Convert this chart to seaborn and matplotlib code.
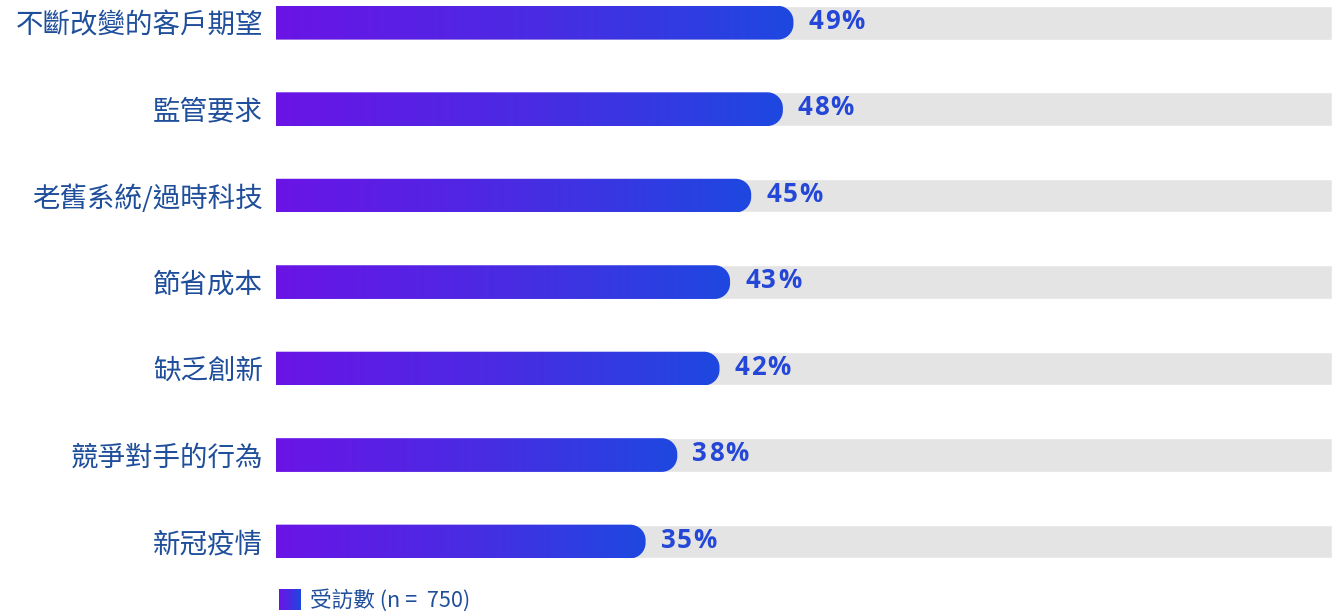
import numpy as np
import pandas as pd
import matplotlib
matplotlib.use("Agg")
import matplotlib.pyplot as plt
from matplotlib.colors import LinearSegmentedColormap
from matplotlib.path import Path
from matplotlib.patches import PathPatch
import seaborn as sns

# ---- data ----
categories = ["不斷改變的客戶期望", "監管要求", "老舊系統/過時科技", "節省成本",
              "缺乏創新", "競爭對手的行為", "新冠疫情"]
values = [49, 48, 45, 43, 42, 38, 35]
track = [100] * len(categories)
legend_label = "受訪數 (n =  750)"

# ---- style ----
sns.set_theme(style="white")
plt.rcParams["font.family"] = ["Noto Sans CJK TC", "DejaVu Sans"]

PURPLE = "#6A14E6"
BLUE = "#1E48E0"
TRACK = "#E4E4E4"
NAVY = "#1F4E9B"
VALUE_C = "#2547D8"
BAR_H = 0.39

grad = LinearSegmentedColormap.from_list("pb", [PURPLE, "#4A2BE3", BLUE])

W, H = 1336, 614
fig = plt.figure(figsize=(W / 100, H / 100), dpi=100)
# axes: data 0 at x=276px, 100 at x=1332px
ax_top_px, ax_bot_px = 0.0, 576.1
ax = fig.add_axes([276 / W, 1 - ax_bot_px / H, 1056 / W, (ax_bot_px - ax_top_px) / H])

df = pd.DataFrame({"cat": categories, "val": values, "track": track})
sns.barplot(data=df, x="track", y="cat", color=TRACK, width=BAR_H, ax=ax,
            saturation=1, orient="h")
n_track = len(ax.patches)
sns.barplot(data=df, x="val", y="cat", color=BLUE, width=BAR_H, ax=ax,
            saturation=1, orient="h")
bars = ax.patches[n_track:]

ax.set_xlim(0, 100)
ax.set_ylim(6.4, -0.2625)
for s in ax.spines.values():
    s.set_visible(False)
ax.set_xlabel("")
ax.set_ylabel("")
ax.set_xticks([])
ax.tick_params(axis="y", length=0, pad=9.4)
for lab in ax.get_yticklabels():
    lab.set_fontsize(19.8)
    lab.set_color(NAVY)
    lab.set_family(["Noto Sans CJK TC", "DejaVu Sans"])

# pixel -> data scale
x_per_px = 100 / 1056
y_per_px = 6.6625 / (ax_bot_px - ax_top_px)
r_px = 15.5
rx, ry = r_px * x_per_px, r_px * y_per_px
k = 0.5523  # bezier circle constant

for p in bars:
    x0 = p.get_x()
    w = p.get_width()
    y0 = p.get_y()
    h = p.get_height()
    x1 = x0 + w
    yt, yb = y0, y0 + h
    verts = [
        (x0 - 2, yt), (x1 - rx, yt),
        (x1 - rx + k * rx, yt), (x1, yt + ry - k * ry), (x1, yt + ry),
        (x1, yb - ry),
        (x1, yb - ry + k * ry), (x1 - rx + k * rx, yb), (x1 - rx, yb),
        (x0 - 2, yb), (x0 - 2, yt),
    ]
    codes = [Path.MOVETO, Path.LINETO,
             Path.CURVE4, Path.CURVE4, Path.CURVE4,
             Path.LINETO,
             Path.CURVE4, Path.CURVE4, Path.CURVE4,
             Path.LINETO, Path.CLOSEPOLY]
    shape = PathPatch(Path(verts, codes), facecolor="none", edgecolor="none",
                      transform=ax.transData)
    ax.add_patch(shape)
    img = ax.imshow(np.linspace(0, 1, 256).reshape(1, -1), cmap=grad,
                    extent=(x0, x1, yb, yt), aspect="auto",
                    interpolation="bicubic", zorder=3)
    img.set_clip_path(shape)
    p.set_visible(False)

ax.set_xlim(0, 100)
ax.set_ylim(6.4, -0.2625)

# value labels with letter spacing
fig.canvas.draw()
renderer = fig.canvas.get_renderer()
spacing_px = 1.6
for i, (p, v) in enumerate(zip(bars, values)):
    yc = p.get_y() + p.get_height() / 2
    off_px = 15.0
    for ch in f"{v}%":
        t = ax.annotate(ch, xy=(v, yc), xytext=(off_px * 0.72, 0.9),
                        textcoords="offset points", ha="left", va="center",
                        fontsize=18.6, fontweight="bold", color=VALUE_C,
                        family=["Open Sans", "DejaVu Sans"], zorder=5)
        bb = t.get_window_extent(renderer)
        off_px += bb.width + spacing_px

# legend: gradient square and label
lax = fig.add_axes([279 / W, 1 - 610.5 / H, 21.5 / W, 21.5 / H])
lax.imshow(np.linspace(0, 1, 64).reshape(1, -1), cmap=grad, aspect="auto",
           interpolation="bicubic")
lax.axis("off")
fig.text(310 / W, 1 - 600 / H, legend_label, fontsize=15.6, color=NAVY,
         va="center", ha="left", family=["Noto Sans CJK TC", "DejaVu Sans"])

fig.savefig("out.png", dpi=100, facecolor="white")
